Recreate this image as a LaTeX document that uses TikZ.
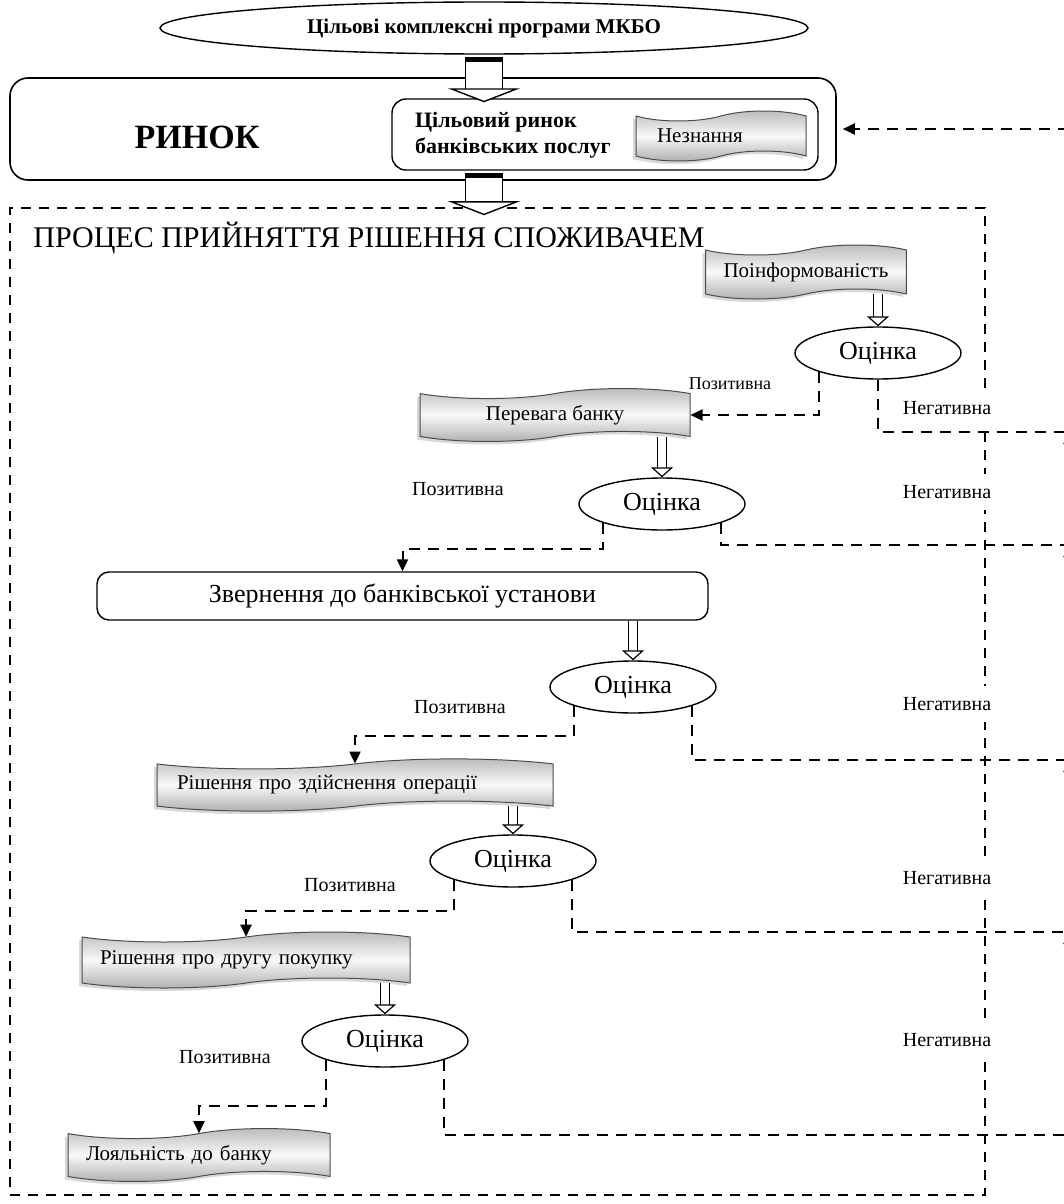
\documentclass[tikz,border=0pt]{standalone}
\usepackage{fontspec}
\setmainfont{Liberation Serif}
\usetikzlibrary{shapes.geometric,shapes.symbols,arrows.meta,shadows,positioning}

\tikzset{
  dline/.style={line width=1pt, dash pattern=on 5.5pt off 4pt},
  posarrow/.style={dline, -{Triangle[length=6pt,width=5.5pt]}},
  wave/.style={tape, draw=gray!60!black, line width=0.5pt,
    tape bend top=in and out, tape bend bottom=in and out, tape bend height=5pt,
    top color=gray!55, bottom color=gray!65, middle color=gray!5,
    drop shadow={shadow xshift=-1.5pt, shadow yshift=-1.5pt, fill=gray!60},
    font=\fontsize{10.5}{12}\selectfont, inner xsep=9pt, minimum height=25pt},
  evalnode/.style={ellipse, draw, line width=0.7pt, fill=white, minimum width=83pt,
    minimum height=26pt, inner sep=0pt, font=\fontsize{13}{15}\selectfont},
  hollow/.style={double, double distance=4pt, line width=0.6pt,
    -{Triangle[open, fill=white, length=5pt, width=11pt]}},
  bighollow/.style={double, double distance=18pt, line width=0.7pt,
    {Bar[width=19.4pt,line width=1.8pt,sep=1pt]Bar[width=19.4pt,line width=0.7pt]}-{Triangle[open, fill=white, length=7pt, width=36pt]}},
  poslbl/.style={font=\fontsize{10}{12}\selectfont, inner sep=1pt},
  neglbl/.style={font=\fontsize{10}{12}\selectfont, fill=white, inner xsep=1pt, inner ysep=5.5pt},
}

\begin{document}
\begin{tikzpicture}[x=0.5pt, y=-0.5pt]
  \useasboundingbox (0,0) rectangle (1064,1204);

  % market
  \node[ellipse, draw, line width=0.7pt, minimum width=324pt, minimum height=26pt,
    font=\bfseries\fontsize{10.5}{12}\selectfont] (prog) at (484,28) {Цільові комплексні програми МКБО};
  \node[draw, rounded corners=9pt, line width=0.8pt, minimum width=413pt, minimum height=51pt] (market) at (423,129) {};
  \node[font=\bfseries\fontsize{17}{20}\selectfont] (marketlbl) at (197,137) {РИНОК};
  \node[draw, rounded corners=7pt, line width=0.7pt, minimum width=213pt, minimum height=35.5pt] (target) at (605,134.5) {};
  \node[anchor=west, align=left, font=\bfseries\fontsize{11}{13}\selectfont] (targetlbl) at (408,135) {Цільовий ринок\\банківських послуг};
  \node[wave, minimum width=85pt, text width=64pt, align=left] (ign) at (721,136) {Незнання};

  % decision process
  \node[draw, line width=0.8pt, dash pattern=on 5pt off 4pt, minimum width=487.5pt, minimum height=493.5pt, inner sep=0pt] (proc) at (497.5,701.5) {};
  \node[anchor=west, inner sep=0pt, font=\fontsize{15}{18}\selectfont] (proclbl) at (33,238) {ПРОЦЕС ПРИЙНЯТТЯ РІШЕННЯ СПОЖИВАЧЕМ};

  \draw[bighollow] (prog.south) -- ([yshift=-2pt]prog.south |- target.north);
  \draw[bighollow] (prog.south |- target.south) -- ([yshift=-4pt]prog.south |- proc.north);

  \node[wave, minimum width=100pt, minimum height=27pt] (info) at (806,272) {Поінформованість};
  \node[wave, minimum width=135pt] (pref) at (555,415) {Перевага банку};
  \node[draw, rounded corners=6pt, line width=0.7pt, minimum width=305.5pt, minimum height=24pt,
    font=\fontsize{13}{15}\selectfont] (appeal) at (402.5,596) {Звернення до банківської установи};
  \node[wave, minimum width=198pt, text width=178pt, align=left] (op) at (355,785) {Рішення про здійснення операції};
  \node[wave, minimum width=164pt, minimum height=28pt, text width=146pt, align=left] (second) at (246,960) {Рішення про другу покупку};
  \node[wave, minimum width=131pt, text width=113pt, align=left] (loyal) at (199,1155) {Лояльність до банку};

  \node[evalnode] (ev1) at (878,353) {Оцінка};
  \node[evalnode] (ev2) at (662,504) {Оцінка};
  \node[evalnode] (ev3) at (633,687) {Оцінка};
  \node[evalnode] (ev4) at (513,861) {Оцінка};
  \node[evalnode] (ev5) at (385,1041) {Оцінка};

  \draw[hollow] (ev1.north |- info.south) -- (ev1.north);
  \draw[hollow] (ev2.north |- pref.south) -- (ev2.north);
  \draw[hollow] (ev3.north |- appeal.south) -- (ev3.north);
  \draw[hollow] (ev4.north |- op.south) -- (ev4.north);
  \draw[hollow] (ev5.north |- second.south) -- (ev5.north);

  % positive
  \draw[posarrow] (ev1.south west) |- (pref.east);
  \draw[posarrow] (ev2.south west) -- ++(0,26) -| (appeal.north);
  \draw[posarrow] (ev3.south west) -- ++(0,30) -| (op.north);
  \draw[posarrow] (ev4.south west) -- ++(0,31) -| (second.north);
  \draw[posarrow] (ev5.south west) -- ++(0,46) -| (loyal.north);

  % negative
  \coordinate (ret0) at (1069,129);
  \coordinate (ret1) at (1069,432);
  \coordinate (ret2) at (1069,545);
  \coordinate (ret3) at (1069,760);
  \coordinate (ret4) at (1069,932);
  \coordinate (ret5) at (1069,1135);
  \draw[dline] (ev1.south) |- (ret1);
  \draw[dline] (ev2.south east) |- (ret2);
  \draw[dline] (ev3.south east) |- (ret3);
  \draw[dline] (ev4.south east) |- (ret4);
  \draw[dline] (ev5.south east) |- (ret5);
  \draw[posarrow] (ret5) -- (ret4);
  \draw[posarrow] (ret4) -- (ret3);
  \draw[posarrow] (ret3) -- (ret2);
  \draw[posarrow] (ret2) -- (ret1);
  \draw[dline] (ret1) -- (ret0);
  \draw[posarrow] (ret0) -- ([xshift=3pt]market.east);

  \node[font=\fontsize{9}{11}\selectfont, inner sep=1pt] (pos1) at (730,384) {Позитивна};
  \node[poslbl] (pos2) at (458,489) {Позитивна};
  \node[poslbl] (pos3) at (460,707) {Позитивна};
  \node[poslbl] (pos4) at (350,885) {Позитивна};
  \node[poslbl] (pos5) at (225,1057) {Позитивна};

  \node[neglbl] (neg1) at (947,408) {Негативна};
  \node[neglbl] (neg2) at (947,492) {Негативна};
  \node[neglbl] (neg3) at (947,704) {Негативна};
  \node[neglbl] (neg4) at (947,878) {Негативна};
  \node[neglbl] (neg5) at (947,1040) {Негативна};
\end{tikzpicture}
\end{document}
